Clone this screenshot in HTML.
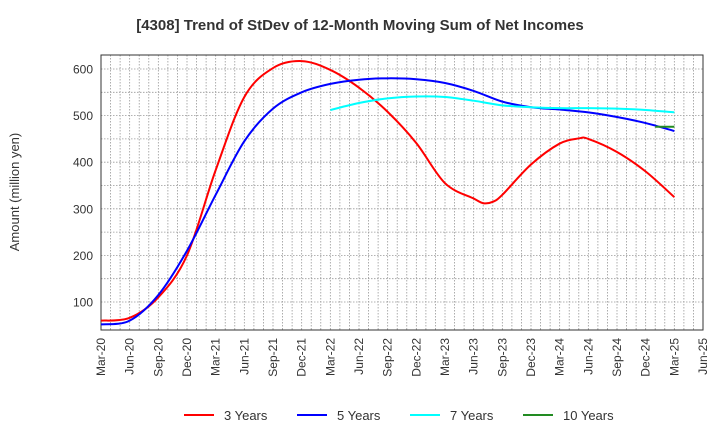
<!DOCTYPE html>
<html><head><meta charset="utf-8"><style>
body{margin:0;background:#fff;font-family:"Liberation Sans",sans-serif;}
svg text{font-family:"Liberation Sans",sans-serif;}
</style></head><body>
<svg id="chart" width="720" height="440" xmlns="http://www.w3.org/2000/svg">
<text x="360" y="30" text-anchor="middle" font-size="15" font-weight="bold" fill="#333">[4308]  Trend of StDev of 12-Month Moving Sum of Net Incomes</text>
<text x="19" y="192" text-anchor="middle" font-size="13" fill="#333" transform="rotate(-90 19 192)">Amount (million yen)</text>
<g id="grid"></g><g id="axes"></g><g id="series"></g>
<g id="legend"></g>
</svg>
<script>
const xLabels=["Mar-20","Jun-20","Sep-20","Dec-20","Mar-21","Jun-21","Sep-21","Dec-21","Mar-22","Jun-22","Sep-22","Dec-22","Mar-23","Jun-23","Sep-23","Dec-23","Mar-24","Jun-24","Sep-24","Dec-24","Mar-25","Jun-25"];
const yTicks=[100,200,300,400,500,600];
const m3=[0,3,6,9,12,15,18,21,24,27,30,33,36,39,40,41,42,45,48,50,51,54,57,60];
const v3=[60,66,110,200,383,540,602,617,598,560,508,441,355,322,312,315,330,395,440,451,450,422,380,325];
const m5=[0,3,6,9,12,15,18,21,24,27,30,33,36,39,42,45,48,51,54,57,60];
const v5=[52,60,115,210,330,445,515,550,568,577,580,578,570,553,530,518,513,507,497,484,467];
const m7=[24,27,30,33,36,39,42,45,48,51,54,57,60];
const v7=[512,527,537,541,540,532,522,518,516,516,515,512,507];
const m10=[58,60];
const v10=[476,476];
const L=101,R=703,T=55,B=330;
const X=m=>L+(R-L)*m/63;
const Y=v=>302-(v-100)*0.466;
const NS="http://www.w3.org/2000/svg";
function mk(tag,attrs,parent){const e=document.createElementNS(NS,tag);for(const k in attrs)e.setAttribute(k,attrs[k]);parent.appendChild(e);return e;}
const grid=document.getElementById('grid'),axes=document.getElementById('axes'),ser=document.getElementById('series'),leg=document.getElementById('legend');
for(let m=1;m<63;m++){const g=mk('line',{x1:X(m),x2:X(m),y1:T,y2:B,stroke:'#999','stroke-width':0.8,'stroke-dasharray':'1.5,1.5'},grid);

}
for(let v=100;v<=600;v+=50){const g=mk('line',{x1:L,x2:R,y1:Y(v),y2:Y(v),stroke:'#999','stroke-width':0.8,'stroke-dasharray':'1.5,1.5'},grid);

}
const fr=mk('rect',{x:L,y:T,width:R-L,height:B-T,fill:'none',stroke:'#333','stroke-width':1},axes);


yTicks.forEach(v=>{const t=mk('text',{x:L-8,y:Y(v)+4.5,'text-anchor':'end','font-size':12,fill:'#333'},axes);t.textContent=v;

});
xLabels.forEach((s,i)=>{const x=X(i*3),y=B+8;const t=mk('text',{x:x,y:y,'text-anchor':'end','font-size':12,fill:'#333',transform:`rotate(-90 ${x} ${y}) translate(0 4)`},axes);t.textContent=s;

});
function path(ms,vs){const p=ms.map((m,i)=>[X(m),Y(vs[i])]);let d=`M${p[0][0]},${p[0][1]}`;
for(let i=0;i<p.length-1;i++){const p0=p[i-1]||p[i],p1=p[i],p2=p[i+1],p3=p[i+2]||p2;
const c1=[p1[0]+(p2[0]-p0[0])/6,p1[1]+(p2[1]-p0[1])/6],c2=[p2[0]-(p3[0]-p1[0])/6,p2[1]-(p3[1]-p1[1])/6];
d+=` C${c1[0]},${c1[1]} ${c2[0]},${c2[1]} ${p2[0]},${p2[1]}`;}return d;}
const S=[[m3,v3,'#ff0000','3 Years','line-3-years'],[m5,v5,'#0000ff','5 Years','line-5-years'],[m7,v7,'#00ffff','7 Years','line-7-years'],[m10,v10,'#228b22','10 Years','line-10-years']];
S.forEach((s,i)=>{const p=mk('path',{d:path(s[0],s[1]),fill:'none',stroke:s[2],'stroke-width':2},ser);


const lx=184+i*113;
const g=mk('g',{},leg);


mk('line',{x1:lx,x2:lx+30,y1:415,y2:415,stroke:s[2],'stroke-width':2},g);
const t=mk('text',{x:lx+40,y:420,'font-size':13,fill:'#333'},g);t.textContent=s[3];});
</script>
</body></html>
